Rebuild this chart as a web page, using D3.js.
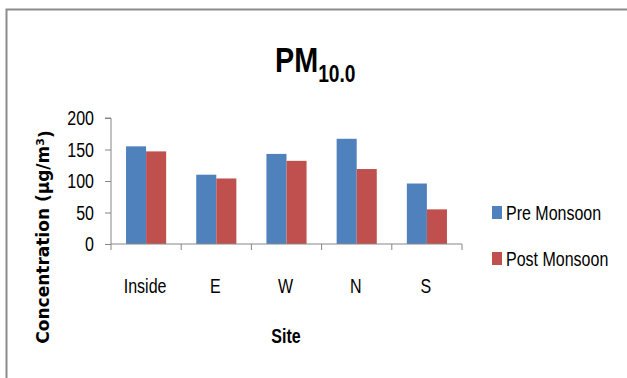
<!DOCTYPE html>
<html>
<head>
<meta charset="utf-8">
<script src="https://cdn.jsdelivr.net/npm/d3@7"></script>
<style>
  html, body { margin: 0; padding: 0; background: #fff; }
  svg { display: block; }
  text { font-family: "Liberation Sans", Arial, sans-serif; fill: #000; }
</style>
</head>
<body>
<svg id="chart" width="627" height="378"></svg>
<script>
const categories = ["Inside", "E", "W", "N", "S"];
const seriesNames = ["Pre Monsoon", "Post Monsoon"];
const preMonsoon = [155, 110, 143, 167, 96];
const postMonsoon = [147, 104, 132, 119, 55];
const yTicks = [0, 50, 100, 150, 200];
const colors = ["#4F81BD", "#C0504D"];

const NARROW = 0.8;
const svg = d3.select("#chart");

function narrowText(parent, x, y, str, size, anchor, bold) {
  const g = parent.append("g").attr("transform", `translate(${x},${y})`);
  const t = g.append("text").attr("transform", `scale(${NARROW},1)`)
    .attr("text-anchor", anchor || "start")
    .style("font-size", size + "px")
    .style("font-weight", bold ? "bold" : "normal")
    .text(str);
  return t;
}

// outer frame
svg.append("rect").attr("x", 6.5).attr("y", 9.5).attr("width", 700).attr("height", 400)
  .attr("fill", "none").attr("stroke", "#8c8c8c").attr("stroke-width", 2);

const x0 = d3.scaleBand().domain(categories).range([111, 462]).padding(0);
const bw = x0.bandwidth();
const gap = 0.75 * bw / 3.5;
const x1 = d3.scaleBand().domain(seriesNames).range([gap, bw - gap]).padding(0);
const y = d3.scaleLinear().domain([0, 200]).range([244, 118]);

const data = categories.map((c, i) => ({cat: c, vals: [preMonsoon[i], postMonsoon[i]]}));

const groups = svg.append("g").selectAll("g").data(data).join("g")
  .attr("transform", d => `translate(${x0(d.cat)},0)`);
groups.selectAll("rect").data(d => d.vals.map((v, j) => ({name: seriesNames[j], v, j})))
  .join("rect")
  .attr("x", d => x1(d.name))
  .attr("width", x1.bandwidth())
  .attr("y", d => y(d.v))
  .attr("height", d => y(0) - y(d.v))
  .attr("fill", d => colors[d.j]);

// Y axis
const yAxis = d3.axisLeft(y).tickValues(yTicks).tickSize(6).tickFormat("");
const gy = svg.append("g").attr("transform", "translate(111,0)").call(yAxis);
gy.select(".domain").attr("stroke", "#868686").attr("d", `M-6,${y(200)}H0V${y(0)}`);
gy.selectAll(".tick line").attr("stroke", "#868686");
yTicks.forEach(v => narrowText(svg, 94, y(v) + 7, String(v), 20, "end"));

// X axis
const gx = svg.append("g").attr("transform", `translate(0,${y(0)})`);
gx.append("line").attr("x1", 111).attr("x2", 462).attr("y1", 0).attr("y2", 0).attr("stroke", "#868686");
const bounds = categories.map(c => x0(c)).concat([x0(categories[categories.length - 1]) + bw]);
gx.selectAll("line.tk").data(bounds).join("line").attr("class", "tk")
  .attr("x1", d => d).attr("x2", d => d).attr("y1", 0).attr("y2", 6).attr("stroke", "#868686");
categories.forEach(c => narrowText(svg, x0(c) + bw / 2 - 1, 293, c, 20, "middle"));

// X axis title
narrowText(svg, 286, 343, "Site", 20, "middle", true);

// Y axis title
const yt = svg.append("text").attr("transform", "translate(49,237) rotate(-90)")
  .attr("text-anchor", "middle")
  .style("font-family", '"DejaVu Sans", Verdana, sans-serif')
  .style("font-weight", "bold").style("font-size", "17px");
yt.append("tspan").text("Concentration (µg/m");
yt.append("tspan").attr("dy", "-0.45em").style("font-size", "11px").text("3");
yt.append("tspan").attr("dy", "0.45em").text(")");

// Title
const tg = svg.append("g").attr("transform", "translate(275,72)");
const title = tg.append("text").attr("transform", `scale(${NARROW},1)`).style("font-weight", "bold");
title.append("tspan").style("font-size", "36px").text("PM");
title.append("tspan").attr("dy", 10).style("font-size", "24px").text("10.0");

// Legend
const legY = [206, 252];
seriesNames.forEach((s, i) => {
  svg.append("rect").attr("x", 492).attr("y", legY[i]).attr("width", 10).attr("height", 13).attr("fill", colors[i]);
  narrowText(svg, 506, legY[i] + 14, s, 20, "start");
});
</script>
</body>
</html>
